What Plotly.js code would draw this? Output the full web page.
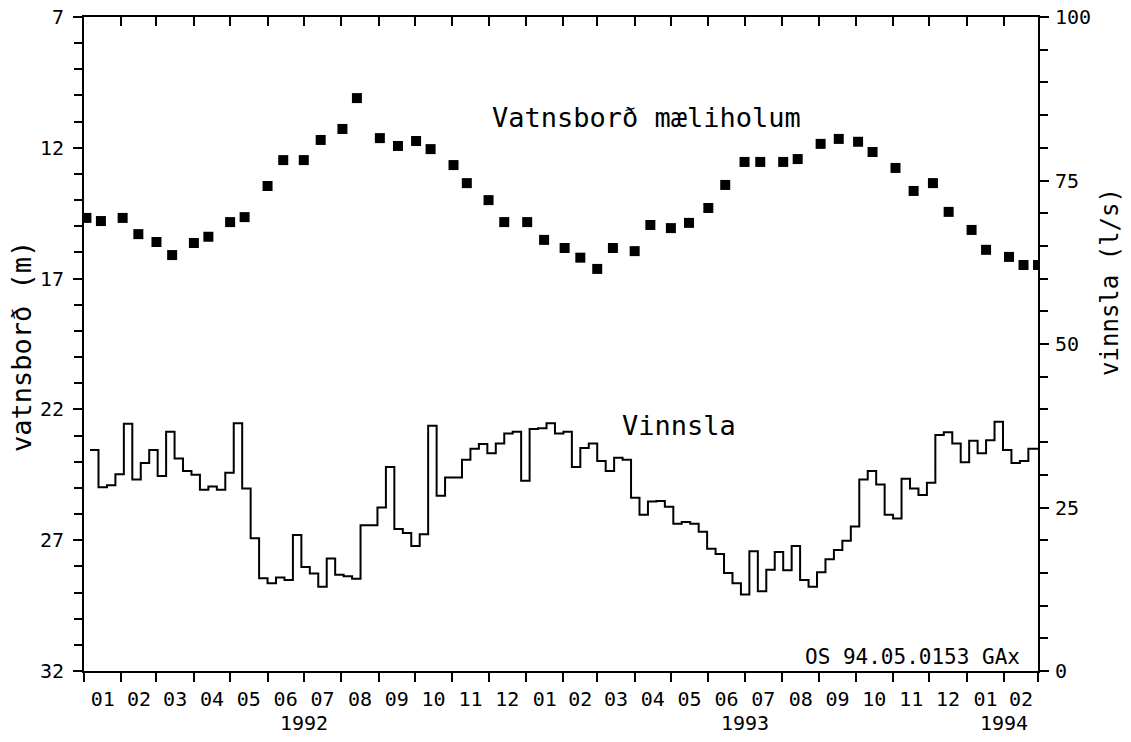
<!DOCTYPE html>
<html>
<head>
<meta charset="utf-8">
<script src="https://cdn.plot.ly/plotly-3.0.1.min.js"></script>
<style>
html,body{margin:0;padding:0;background:#fff;}
#chart{width:1131px;height:742px;}
</style>
</head>
<body>
<div id="chart"></div>
<script>
// Water level in observation well (m below reference), roughly twice a month
const levelDates = [
 '1992-01-03','1992-01-15','1992-02-02','1992-02-15','1992-03-01','1992-03-14','1992-04-01','1992-04-13',
 '1992-05-01','1992-05-13','1992-06-01','1992-06-14','1992-07-01','1992-07-15','1992-08-02','1992-08-14',
 '1992-09-02','1992-09-17','1992-10-02','1992-10-14','1992-11-02','1992-11-13','1992-12-01','1992-12-14',
 '1993-01-02','1993-01-16','1993-02-02','1993-02-15','1993-03-01','1993-03-14','1993-04-01','1993-04-14',
 '1993-05-01','1993-05-16','1993-06-01','1993-06-15','1993-07-01','1993-07-14','1993-08-02','1993-08-14',
 '1993-09-02','1993-09-17','1993-10-03','1993-10-15','1993-11-03','1993-11-18','1993-12-04','1993-12-17',
 '1994-01-05','1994-01-17','1994-02-05','1994-02-17','1994-03-01'
];
const levelValues = [
 14.68,14.80,14.68,15.30,15.60,16.10,15.64,15.40,
 14.84,14.65,13.46,12.47,12.47,11.70,11.28,10.10,
 11.63,11.93,11.74,12.05,12.66,13.35,14.00,14.84,
 14.84,15.52,15.83,16.20,16.63,15.83,15.95,14.95,
 15.07,14.87,14.30,13.42,12.54,12.54,12.54,12.43,
 11.85,11.66,11.77,12.16,12.77,13.65,13.35,14.45,
 15.14,15.90,16.17,16.48,16.48
];

// Weekly pumping (l/s); each value holds from its date to the next
const pumpDates = [
 '1992-01-06','1992-01-13','1992-01-20','1992-01-27','1992-02-03','1992-02-10','1992-02-17','1992-02-24',
 '1992-03-02','1992-03-09','1992-03-16','1992-03-23','1992-03-30','1992-04-06','1992-04-13','1992-04-20',
 '1992-04-27','1992-05-04','1992-05-11','1992-05-18','1992-05-25','1992-06-01','1992-06-08','1992-06-15',
 '1992-06-22','1992-06-29','1992-07-06','1992-07-13','1992-07-20','1992-07-27','1992-08-03','1992-08-10',
 '1992-08-17','1992-08-24','1992-08-31','1992-09-07','1992-09-14','1992-09-21','1992-09-28','1992-10-05',
 '1992-10-12','1992-10-19','1992-10-26','1992-11-02','1992-11-09','1992-11-16','1992-11-23','1992-11-30',
 '1992-12-07','1992-12-14','1992-12-21','1992-12-28',
 '1993-01-04','1993-01-11','1993-01-18','1993-01-25','1993-02-01','1993-02-08','1993-02-15','1993-02-22',
 '1993-03-01','1993-03-08','1993-03-15','1993-03-22','1993-03-29','1993-04-05','1993-04-12','1993-04-19',
 '1993-04-26','1993-05-03','1993-05-10','1993-05-17','1993-05-24','1993-05-31','1993-06-07','1993-06-14',
 '1993-06-21','1993-06-28','1993-07-05','1993-07-12','1993-07-19','1993-07-26','1993-08-02','1993-08-09',
 '1993-08-16','1993-08-23','1993-08-30','1993-09-06','1993-09-13','1993-09-20','1993-09-27','1993-10-04',
 '1993-10-11','1993-10-18','1993-10-25','1993-11-01','1993-11-08','1993-11-15','1993-11-22','1993-11-29',
 '1993-12-06','1993-12-13','1993-12-20','1993-12-27',
 '1994-01-03','1994-01-10','1994-01-17','1994-01-24','1994-01-31','1994-02-07','1994-02-14','1994-02-21',
 '1994-03-01'
];
const pumpValues = [
 33.8,28.1,28.4,30.1,37.8,29.3,31.8,33.8,29.8,36.6,
 32.5,30.6,30.0,27.7,28.2,27.7,30.3,37.9,27.9,20.3,
 14.2,13.4,14.3,13.9,20.8,15.9,14.9,12.9,17.2,14.7,
 14.5,14.1,22.3,22.3,25.0,31.2,21.7,21.1,19.1,20.9,
 37.5,26.8,29.6,29.6,32.3,34.0,34.7,33.3,34.8,36.3,
 36.6,29.1,37.0,37.1,37.9,36.3,36.6,31.2,34.1,34.8,
 32.1,30.6,32.6,32.3,26.5,23.9,25.9,26.0,25.1,22.5,
 22.8,22.5,21.3,18.7,17.9,15.0,13.4,11.7,18.3,12.2,
 15.5,18.2,15.4,19.1,13.9,12.9,15.1,17.1,18.5,19.9,
 22.1,29.3,30.6,28.5,23.9,23.3,29.4,27.9,26.9,28.8,
 36.1,36.5,34.8,31.9,35.2,33.3,35.3,38.1,33.8,31.8,
 32.1,34.0,34.0
];

const yearLabels = ['1992','1993','1994'];
const yearCentres = ['1992-07-01','1993-07-01','1994-02-01'];

const leftTickVals = [7,12,17,22,27,32];
const rightTickVals = [0,25,50,75,100];

const FONT = '"DejaVu Sans Mono", "Liberation Mono", monospace';
const xRange = ['1992-01-01','1994-03-01'];

const traces = [
  {
    x: levelDates, y: levelValues, type: 'scatter', mode: 'markers',
    marker: {symbol: 'square', size: 10, color: '#000'},
    xaxis: 'x', yaxis: 'y', hoverinfo: 'x+y', showlegend: false
  },
  {
    x: pumpDates, y: pumpValues, type: 'scatter', mode: 'lines',
    line: {shape: 'hv', color: '#000', width: 2},
    xaxis: 'x', yaxis: 'y2', hoverinfo: 'x+y', showlegend: false
  },
  {
    x: [], y: [], type: 'scatter', mode: 'markers',
    xaxis: 'x2', yaxis: 'y', showlegend: false, hoverinfo: 'skip'
  }
];

const axisCommon = {
  showgrid: false, zeroline: false, showline: true, linecolor: '#000', linewidth: 2,
  tickcolor: '#000', tickwidth: 2, ticklen: 9,
  tickfont: {family: FONT, size: 20, color: '#000'}
};

const annotations = [
  {text: 'Vatnsborð mæliholum', xref: 'paper', yref: 'paper', x: 0.4256, y: 0.847,
   xanchor: 'left', yanchor: 'middle', showarrow: false,
   font: {family: FONT, size: 27, color: '#000'}},
  {text: 'Vinnsla', xref: 'paper', yref: 'paper', x: 0.5618, y: 0.376,
   xanchor: 'left', yanchor: 'middle', showarrow: false,
   font: {family: FONT, size: 27, color: '#000'}},
  {text: 'OS 94.05.0153 GAx', xref: 'paper', yref: 'paper', x: 0.983, y: 0.0214,
   xanchor: 'right', yanchor: 'middle', showarrow: false,
   font: {family: FONT, size: 21, color: '#000'}},
  {text: 'vatnsborð (m)', xref: 'paper', yref: 'paper', x: -0.066, y: 0.4954,
   xanchor: 'center', yanchor: 'middle', textangle: -90, showarrow: false,
   font: {family: FONT, size: 27, color: '#000'}},
  {text: 'vinnsla (l/s)', xref: 'paper', yref: 'paper', x: 1.0755, y: 0.595,
   xanchor: 'center', yanchor: 'middle', textangle: -90, showarrow: false,
   font: {family: FONT, size: 24, color: '#000'}}
];
yearLabels.forEach((t, i) => {
  annotations.push({text: t, xref: 'x', yref: 'paper', x: yearCentres[i], y: -0.08,
    xanchor: 'center', yanchor: 'middle', showarrow: false,
    font: {family: FONT, size: 20, color: '#000'}});
});

const layout = {
  width: 1131, height: 742,
  margin: {l: 84, r: 93, t: 17, b: 71, pad: 0},
  paper_bgcolor: '#fff', plot_bgcolor: '#fff',
  showlegend: false,
  xaxis: Object.assign({}, axisCommon, {
    type: 'date', range: xRange, tick0: '1992-01-01', dtick: 'M1',
    tickformat: '%m', ticklabelmode: 'period', ticks: 'outside', mirror: false
  }),
  xaxis2: Object.assign({}, axisCommon, {
    type: 'date', range: xRange, tick0: '1992-01-01', dtick: 'M1',
    overlaying: 'x', side: 'top', ticks: 'inside', showticklabels: false
  }),
  yaxis: Object.assign({}, axisCommon, {
    range: [32, 7], tickmode: 'array', tickvals: leftTickVals, ticks: 'outside',
    ticklabelstandoff: 5,
    minor: {tickmode: 'linear', tick0: 7, dtick: 1, ticks: 'outside', ticklen: 8, tickcolor: '#000', tickwidth: 2}
  }),
  yaxis2: Object.assign({}, axisCommon, {
    range: [0, 100], overlaying: 'y', side: 'right', tickmode: 'array', tickvals: rightTickVals, ticks: 'outside',
    ticklabelstandoff: 2,
    minor: {tickmode: 'linear', tick0: 0, dtick: 5, ticks: 'outside', ticklen: 8, tickcolor: '#000', tickwidth: 2}
  }),
  annotations: annotations
};

Plotly.newPlot('chart', traces, layout, {displayModeBar: false, staticPlot: true});
</script>
</body>
</html>
